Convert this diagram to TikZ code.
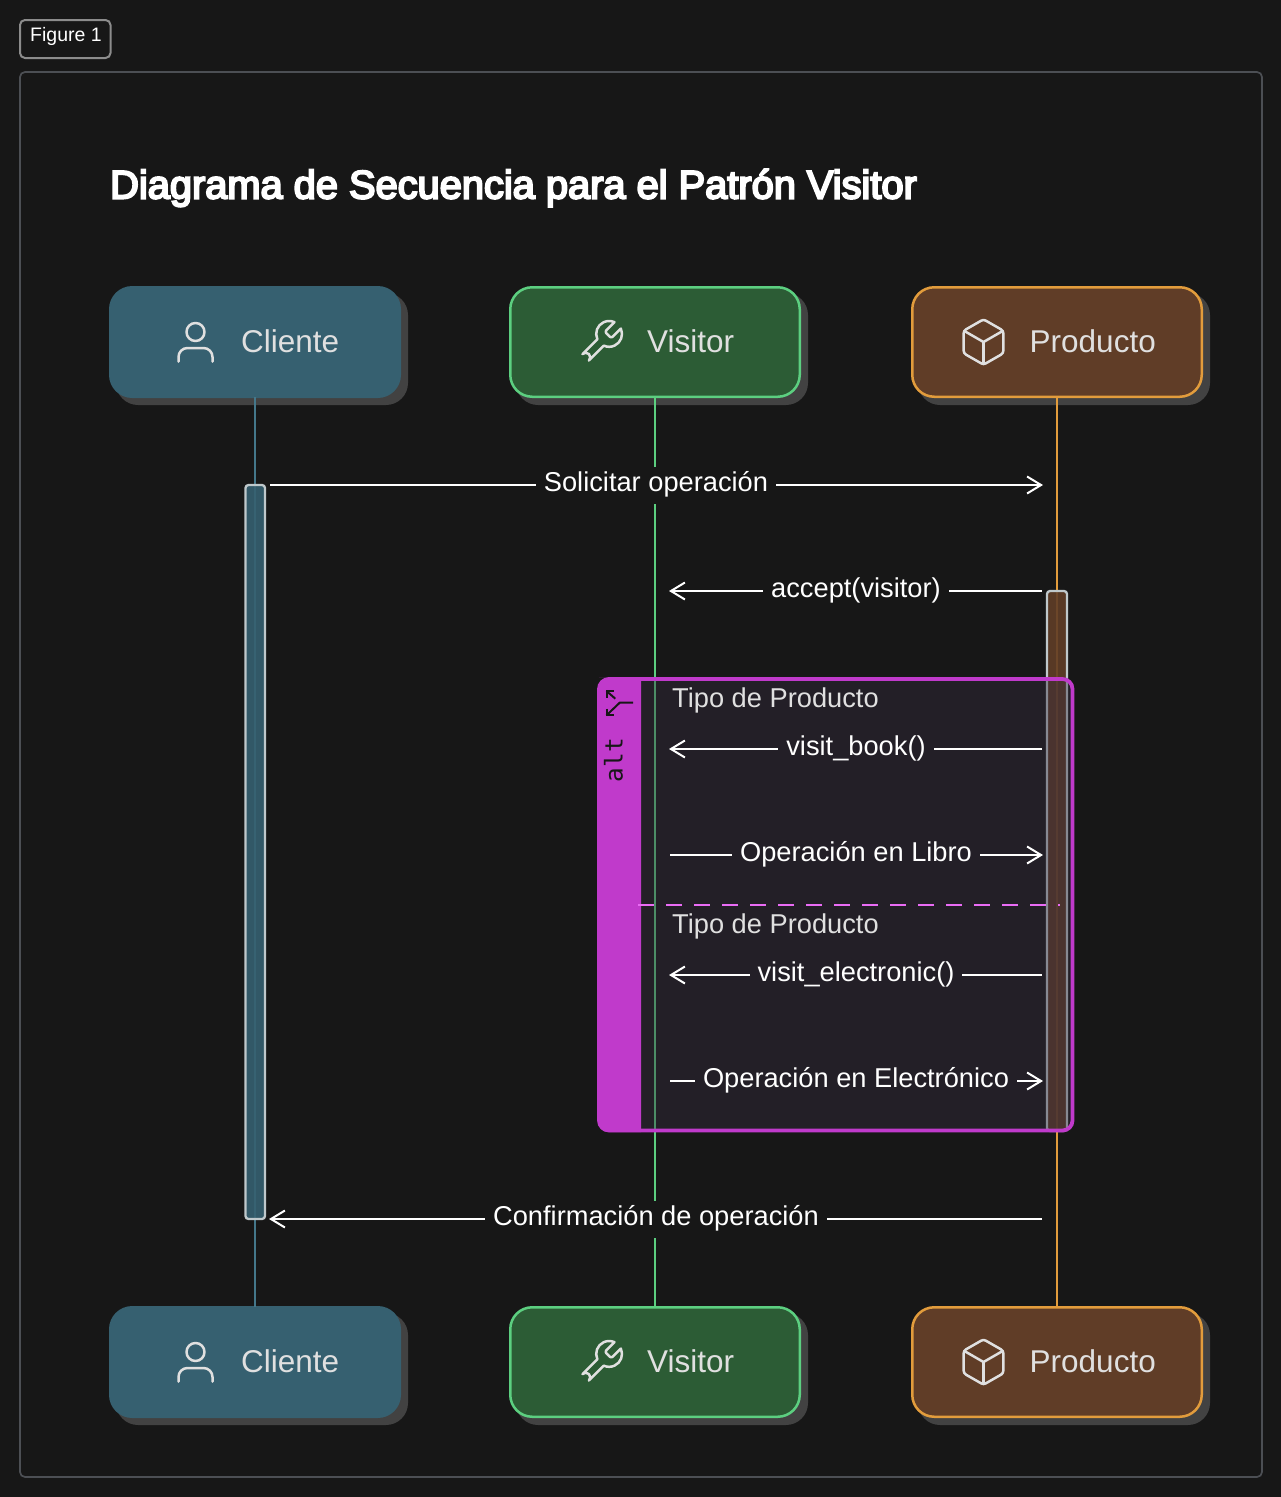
\documentclass[tikz,border=0pt]{standalone}
\usepackage{fontspec}
\setmainfont{Liberation Sans}
\setmonofont{DejaVu Sans Mono}
\newfontfamily\titlefont[FakeBold=5]{Liberation Sans}
\usetikzlibrary{arrows.meta,svg.path}
\definecolor{bgc}{HTML}{171717}
\definecolor{framec}{HTML}{4C4F54}
\definecolor{tagc}{HTML}{8C8C8C}
\definecolor{shadowc}{HTML}{424242}
\definecolor{clif}{HTML}{366070}
\definecolor{clil}{HTML}{44778A}
\definecolor{visf}{HTML}{2C5C35}
\definecolor{visl}{HTML}{5CCF80}
\definecolor{prof}{HTML}{603D27}
\definecolor{prol}{HTML}{E29C3C}
\definecolor{altc}{HTML}{C03ACB}
\definecolor{altd}{HTML}{EA6CF5}
\definecolor{altin}{HTML}{231F27}
\definecolor{altov}{RGB}{53,43,63}
\definecolor{actc}{HTML}{BFC8CB}
\definecolor{icoc}{HTML}{E0E0E0}
\tikzset{
  x=1pt,y=-1pt,
  actorbox/.style={rounded corners=22pt,minimum width=289.5pt,minimum height=109.5pt,inner sep=0pt,outer sep=0pt,line width=2.5pt},
  shadowbox/.style={rounded corners=22pt,minimum width=292pt,minimum height=112pt,inner sep=0pt,outer sep=0pt,fill=shadowc},
  actortext/.style={anchor=base west,inner sep=0pt,text=icoc,font=\fontsize{31.5}{36}\selectfont},
  icon/.style={draw=icoc,line width=2.5pt,line cap=round,line join=round},
  msg/.style={draw=white,line width=2pt,-{Straight Barb[length=14pt,width=17pt,line width=2pt]}},
  lbl/.style={anchor=base,inner ysep=0pt,inner xsep=8pt,text=white,text height=25pt,text depth=12pt,fill=bgc,font=\fontsize{27.25}{30}\selectfont},
  lblin/.style={lbl,fill=altin},
  guard/.style={anchor=base west,inner sep=0pt,text=icoc,font=\fontsize{27.25}{30}\selectfont},
  life/.style={line width=2.2pt},
  activ/.style={draw=actc,line width=2.3pt,rounded corners=3pt},
}
\newcommand{\clienteactor}[2]{%
  \begin{scope}[yshift=#2]
  \node[shadowbox] at (262,349) {};
  \node[actorbox,fill=clif,draw=clif] (#1) at (255,342) {};
  \node[actortext] (#1t) at (241,352) {Cliente};
  \draw[icon] (195.5,332) circle[radius=9];
  \draw[icon,rounded corners=9pt] (178.5,361.5) -- (178.5,348) -- (212.5,348) -- (212.5,361.5);
  \end{scope}}
\newcommand{\visitoractor}[2]{%
  \begin{scope}[yshift=#2]
  \node[shadowbox] at (662,349) {};
  \node[actorbox,fill=visf,draw=visl] (#1) at (655,342) {};
  \node[actortext] (#1t) at (647,352) {Visitor};
  \begin{scope}[shift={(574.7,316.7)},xscale=2.15,yscale=-2.15]
  \draw[icon] svg {M14.7 6.3a1 1 0 0 0 0 1.4l1.6 1.6a1 1 0 0 0 1.4 0l3.77-3.77a6 6 0 0 1-7.94 7.94l-6.91 6.91a2.12 2.12 0 0 1-3-3l6.91-6.91a6 6 0 0 1 7.94-7.94l-3.76 3.76z};
  \end{scope}
  \end{scope}}
\newcommand{\productoactor}[2]{%
  \begin{scope}[yshift=#2]
  \node[shadowbox] at (1064,349) {};
  \node[actorbox,fill=prof,draw=prol] (#1) at (1057,342) {};
  \node[actortext] (#1t) at (1029.5,352) {Producto};
  \begin{scope}[shift={(957.1,315.6)},xscale=2.2,yscale=-2.2]
  \draw[icon] svg {M21 8a2 2 0 0 0-1-1.73l-7-4a2 2 0 0 0-2 0l-7 4A2 2 0 0 0 3 8v8a2 2 0 0 0 1 1.73l7 4a2 2 0 0 0 2 0l7-4A2 2 0 0 0 21 16Z};
  \draw[icon] svg {M3.3 7l8.7 5 8.7-5};
  \draw[icon] svg {M12 22V12};
  \end{scope}
  \end{scope}}
\begin{document}
\begin{tikzpicture}
\useasboundingbox (0,0) rectangle (1281,1497);
\fill[bgc] (0,0) rectangle (1281,1497);
% frames
\draw[framec,line width=1.7pt,rounded corners=5pt] (20,72) rectangle (1262,1477);
\draw[tagc,line width=2pt,rounded corners=5pt] (20,20) rectangle (110.5,58);
\node[anchor=base west,inner sep=0pt,text=white,font=\fontsize{19.5}{22}\selectfont] (tag) at (30,41) {Figure 1};
\node[anchor=base west,inner sep=0pt,text=white,font=\titlefont\fontsize{39.8}{44}\selectfont] (title) at (110,198.5) {Diagrama de Secuencia para el Patrón Visitor};
% actors
\clienteactor{cliT}{0pt}
\visitoractor{visT}{0pt}
\productoactor{proT}{0pt}
\clienteactor{cliB}{-1020pt}
\visitoractor{visB}{-1020pt}
\productoactor{proB}{-1020pt}
% lifelines
\draw[life,clil] (cliT.south) -- (cliB.north);
\draw[life,visl] (visT.south) -- (visB.north);
\draw[life,prol] (proT.south) -- (proB.north);
% activations
\draw[activ,fill=clif,fill opacity=.9] (245.5,485) rectangle (265,1219);
\draw[activ,fill=prof,fill opacity=.9] (1047,591) rectangle (1067,1131);
% alt frame
\fill[altov,fill opacity=.4,rounded corners=10pt] (599,679) rectangle (1072.5,1130.5);
\fill[altc] (610,677.5) [rounded corners=0pt] -- (641,677.5) -- (641,1132) -- (610,1132) [rounded corners=11pt] -- (598,1132) -- (598,677.5) -- cycle;
\draw[altc,line width=3.8pt,rounded corners=10pt] (599,679) rectangle (1072.5,1130.5);
\draw[altd,line width=2.2pt,dash pattern=on 16pt off 12pt] (638,905) -- (1060,905);
\node[anchor=base,rotate=90,inner sep=0pt,text=bgc,font=\ttfamily\fontsize{24.4}{26}\selectfont] (alt) at (622.5,760) {alt};
\begin{scope}[bgc,line width=2pt]
\draw (633,702.7) -- (619.7,702.7) -- (606.5,715.3);
\draw (606.5,691) -- (615.3,698.7);
\draw (606.5,697.5) -- (606.5,691) -- (613.5,691);
\draw (606.5,708.7) -- (606.5,715.3) -- (613.7,715.3);
\end{scope}
\node[guard] (g1) at (672,707) {Tipo de Producto};
\node[guard] (g2) at (672,933) {Tipo de Producto};
% message anchors
\coordinate (c1) at (270,485);   \coordinate (p1) at (1043,485);
\coordinate (p2) at (1042,591);  \coordinate (v2) at (669,591);
\coordinate (p3) at (1042,749);  \coordinate (v3) at (669,749);
\coordinate (v4) at (670,855);   \coordinate (p4) at (1043,855);
\coordinate (p5) at (1042,975);  \coordinate (v5) at (669,975);
\coordinate (v6) at (670,1081);  \coordinate (p6) at (1043,1081);
\coordinate (p7) at (1042,1219); \coordinate (c7) at (269,1219);
% messages
\draw[msg] (c1) -- (p1);
\node[lbl] (m1) at (656,491.5) {Solicitar operación};
\draw[msg] (p2) -- (v2);
\node[lbl] (m2) at (856,597.5) {accept(visitor)};
\draw[msg] (p3) -- (v3);
\node[lblin] (m3) at (856,755.5) {visit\_book()};
\draw[msg] (v4) -- (p4);
\node[lblin] (m4) at (856,861.5) {Operación en Libro};
\draw[msg] (p5) -- (v5);
\node[lblin] (m5) at (856,981.5) {visit\_electronic()};
\draw[msg] (v6) -- (p6);
\node[lblin] (m6) at (856,1087.5) {Operación en Electrónico};
\draw[msg] (p7) -- (c7);
\node[lbl] (m7) at (656,1225.5) {Confirmación de operación};
\end{tikzpicture}
\end{document}
